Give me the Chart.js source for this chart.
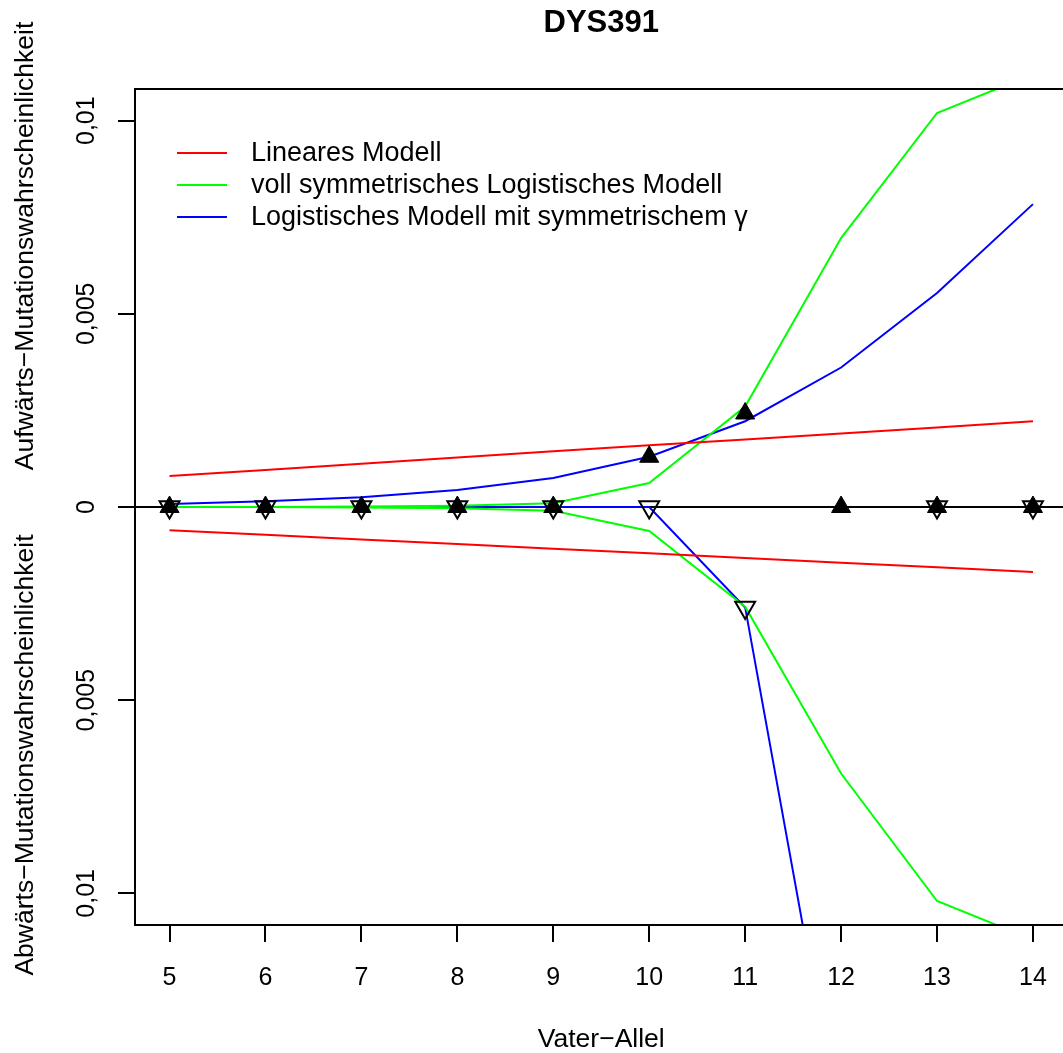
<!DOCTYPE html>
<html>
<head>
<meta charset="utf-8">
<script src="https://cdn.jsdelivr.net/npm/chart.js@4.4.1/dist/chart.umd.min.js"></script>
<style>
  html, body { margin: 0; padding: 0; overflow: hidden; background: #fff; }
  #wrap { width: 1081px; height: 1053px; }
</style>
</head>
<body>
<div id="wrap"><canvas id="grafico" width="1081" height="1053"></canvas></div>
<script>
const alleles = [5, 6, 7, 8, 9, 10, 11, 12, 13, 14];
const linearUp   = [0.0008, 0.00096, 0.00112, 0.00128, 0.00144, 0.0016, 0.00175, 0.0019, 0.00206, 0.00222];
const linearDown = [-0.0006, -0.00072, -0.00084, -0.00096, -0.00108, -0.0012, -0.00132, -0.00144, -0.00156, -0.00168];
const logFullUp   = [0, 0, 0.00001, 0.00003, 0.0001, 0.00062, 0.0026, 0.00696, 0.0102, 0.0112];
const logFullDown = [0, 0, -0.00001, -0.00003, -0.0001, -0.00062, -0.00258, -0.0069, -0.0102, -0.0112];
const logGammaUp   = [0.00008, 0.00015, 0.00025, 0.00044, 0.00075, 0.0013, 0.00222, 0.00361, 0.00554, 0.00784];
const logGammaDown = [0, 0, 0, 0, 0, 0, -0.0026, -0.0163, null, null];
const observedUp   = [0, 0, 0, 0, 0, 0.0013, 0.00242, 0, 0, 0];
const observedDown = [0, 0, 0, 0, 0, 0, -0.0026, null, 0, 0];

const xTicks = [5, 6, 7, 8, 9, 10, 11, 12, 13, 14];
const yTicks = [-0.01, -0.005, 0, 0.005, 0.01];
const yTickLabels = ['0,01', '0,005', '0', '0,005', '0,01'];

const chartTitle = 'DYS391';
const xTitle = 'Vater\u2212Allel';
const yTitleUp = 'Aufw\u00e4rts\u2212Mutationswahrscheinlichkeit';
const yTitleDown = 'Abw\u00e4rts\u2212Mutationswahrscheinlichkeit';
const legendLabels = ['Lineares Modell', 'voll symmetrisches Logistisches Modell', 'Logistisches Modell mit symmetrischem \u03b3'];
const legendColors = ['#ff0000', '#00ff00', '#0000ff'];

const FONT = '"Liberation Sans", Arial, Helvetica, sans-serif';

function pts(arr) {
    return alleles.map((a, i) => ({ x: a, y: arr[i] })).filter(p => p.y !== null);
}

function lineSet(arr, color) {
    return {
        type: 'line', data: pts(arr), borderColor: color, borderWidth: 2,
        pointRadius: 0, tension: 0, fill: false, clip: 0, order: 2
    };
}

const decoPlugin = {
    id: 'deco',
    beforeDatasetsDraw(chart) {
        const { ctx, chartArea, scales } = chart;
        const y0 = scales.y.getPixelForValue(0);
        ctx.save();
        ctx.strokeStyle = '#000';
        ctx.lineWidth = 2;
        ctx.beginPath();
        ctx.moveTo(chartArea.left, y0);
        ctx.lineTo(chartArea.right, y0);
        ctx.stroke();
        ctx.restore();
    },
    afterDraw(chart) {
        const { ctx, chartArea } = chart;
        const cx = (chartArea.left + chartArea.right) / 2;
        ctx.save();
        // box
        ctx.strokeStyle = '#000';
        ctx.lineWidth = 2;
        ctx.strokeRect(chartArea.left, chartArea.top, chartArea.right - chartArea.left, chartArea.bottom - chartArea.top);

        ctx.fillStyle = '#000';
        ctx.textAlign = 'center';
        ctx.textBaseline = 'alphabetic';
        ctx.font = 'bold 31px ' + FONT;
        ctx.fillText(chartTitle, cx, 32);

        ctx.font = '26.5px ' + FONT;
        ctx.fillText(xTitle, cx, 1047);

        ctx.save();
        ctx.translate(33, 246);
        ctx.rotate(-Math.PI / 2);
        ctx.fillText(yTitleUp, 0, 0);
        ctx.restore();
        ctx.save();
        ctx.translate(33, 755);
        ctx.rotate(-Math.PI / 2);
        ctx.fillText(yTitleDown, 0, 0);
        ctx.restore();

        // legend
        ctx.font = '27px ' + FONT;
        ctx.textAlign = 'left';
        ctx.textBaseline = 'middle';
        legendLabels.forEach((lab, i) => {
            const y = 153 + i * 32;
            ctx.strokeStyle = legendColors[i];
            ctx.lineWidth = 2;
            ctx.beginPath();
            ctx.moveTo(177, y);
            ctx.lineTo(227, y);
            ctx.stroke();
            ctx.fillStyle = '#000';
            ctx.fillText(lab, 251, y + 1);
        });
        ctx.restore();
    }
};

const ctx = document.getElementById('grafico').getContext('2d');
const grafico = new Chart(ctx, {
    type: 'line',
    data: {
        datasets: [
            {
                type: 'scatter', data: pts(observedUp), pointStyle: 'triangle', pointRadius: 11,
                backgroundColor: '#000', borderColor: '#000', borderWidth: 1, showLine: false, clip: false, order: 0
            },
            {
                type: 'scatter', data: pts(observedDown), pointStyle: 'triangle', pointRotation: 180, pointRadius: 11.5,
                backgroundColor: 'rgba(0,0,0,0)', borderColor: '#000', borderWidth: 2, showLine: false, clip: false, order: 1
            },
            lineSet(linearUp, legendColors[0]),
            lineSet(linearDown, legendColors[0]),
            lineSet(logFullUp, legendColors[1]),
            lineSet(logFullDown, legendColors[1]),
            lineSet(logGammaUp, legendColors[2]),
            lineSet(logGammaDown, legendColors[2])
        ]
    },
    options: {
        responsive: false,
        animation: false,
        events: [],
        layout: { padding: { top: 89, right: 2, left: 0, bottom: 0 } },
        plugins: { legend: { display: false }, title: { display: false }, tooltip: { enabled: false } },
        scales: {
            x: {
                type: 'linear', min: 4.64, max: 14.36,
                afterBuildTicks: s => { s.ticks = xTicks.map(v => ({ value: v })); },
                afterFit: s => { s.height = 128; },
                ticks: { color: '#000', font: { size: 25, family: FONT }, padding: 21, maxRotation: 0, autoSkip: false,
                         callback: v => String(v) },
                grid: { drawOnChartArea: false, drawTicks: true, tickLength: 17, color: '#000', lineWidth: 2 },
                border: { display: true, color: '#000', width: 2 }
            },
            y: {
                type: 'linear', min: -0.01082, max: 0.01082,
                afterBuildTicks: s => { s.ticks = yTicks.map(v => ({ value: v })); },
                afterFit: s => { s.width = 135; },
                ticks: { color: '#000', font: { size: 25, family: FONT }, padding: 0, minRotation: 90, maxRotation: 90,
                         crossAlign: 'center', autoSkip: false,
                         callback: (v, i) => yTickLabels[i] },
                grid: { drawOnChartArea: false, drawTicks: true, tickLength: 17, color: '#000', lineWidth: 2 },
                border: { display: true, color: '#000', width: 2 }
            }
        }
    },
    plugins: [decoPlugin]
});
</script>
</body>
</html>
